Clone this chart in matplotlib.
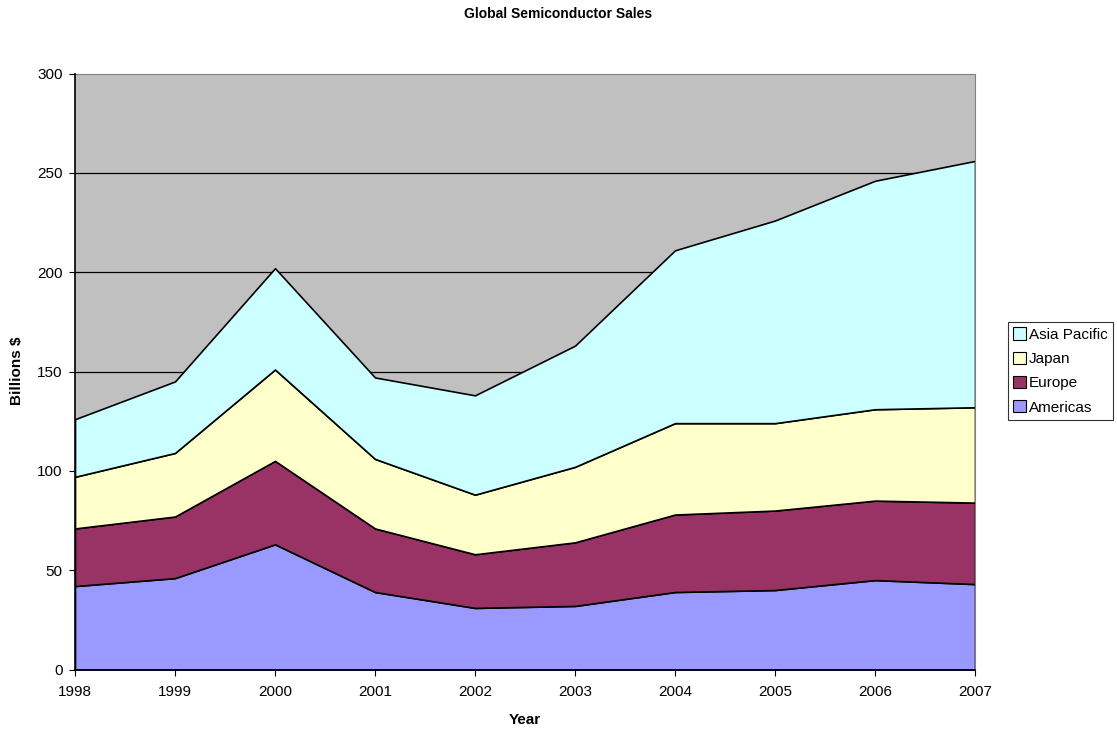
import numpy as np
import matplotlib.pyplot as plt

plt.rcParams['font.family'] = ['Liberation Sans', 'DejaVu Sans']

# data (billions $)
years = [1998, 1999, 2000, 2001, 2002, 2003, 2004, 2005, 2006, 2007]
americas = [42, 46, 63, 39, 31, 32, 39, 40, 45, 43]
europe = [29, 31, 42, 32, 27, 32, 39, 40, 40, 41]
japan = [26, 32, 46, 35, 30, 38, 46, 44, 46, 48]
asia_pacific = [29, 36, 51, 41, 50, 61, 87, 102, 115, 124]

names = ['Americas', 'Europe', 'Japan', 'Asia Pacific']
colors = ['#9999FF', '#993366', '#FFFFCC', '#CCFFFF']

fig = plt.figure(figsize=(11.17, 7.29), dpi=100)
ax = fig.add_axes([75/1117, 59.5/729, 900/1117, 596/729])
ax.set_facecolor('#C0C0C0')

polys = ax.stackplot(years, americas, europe, japan, asia_pacific,
                     colors=colors, labels=names,
                     edgecolor='black', linewidth=1.2, zorder=2)

ax.set_xlim(1998, 2007)
ax.set_ylim(0, 300)
ax.set_xticks(years)
ax.set_yticks(np.arange(0, 301, 50))

for v in range(50, 300, 50):
    ax.axhline(v, color='black', linewidth=0.9, zorder=1)

ax.tick_params(labelsize=11, length=4, direction='out', color='black')
ax.tick_params(axis='x', pad=7)
ax.tick_params(axis='y', pad=5)

for side in ['top', 'right']:
    ax.spines[side].set_color('#808080')
for side in ['left', 'bottom']:
    ax.spines[side].set_color('black')
    ax.spines[side].set_linewidth(1.2)
    ax.spines[side].set_zorder(5)

fig.text(525/1117, 1 - 720/729, 'Year', ha='center', va='center',
         fontsize=11, fontweight='bold')
fig.text(17/1117, 1 - 371/729, 'Billions $', ha='center', va='center',
         rotation=90, fontsize=11, fontweight='bold')

fig.text(0.5, 1 - 14/729, 'Global Semiconductor Sales', ha='center', va='center',
         fontsize=10, fontweight='bold')

handles, labels = ax.get_legend_handles_labels()
leg = fig.legend(handles[::-1], labels[::-1], loc='upper left',
                 bbox_to_anchor=(1008/1117, 1 - 322/729),
                 fontsize=11, frameon=True, fancybox=False,
                 handlelength=0.85, handleheight=0.85, handletextpad=0.15,
                 labelspacing=0.65, borderpad=0.35, borderaxespad=0)
leg.get_frame().set_edgecolor('black')
leg.get_frame().set_linewidth(0.8)
for h in leg.legend_handles:
    h.set_edgecolor('black')
    h.set_linewidth(0.8)

plt.savefig('out.png', dpi=100)
